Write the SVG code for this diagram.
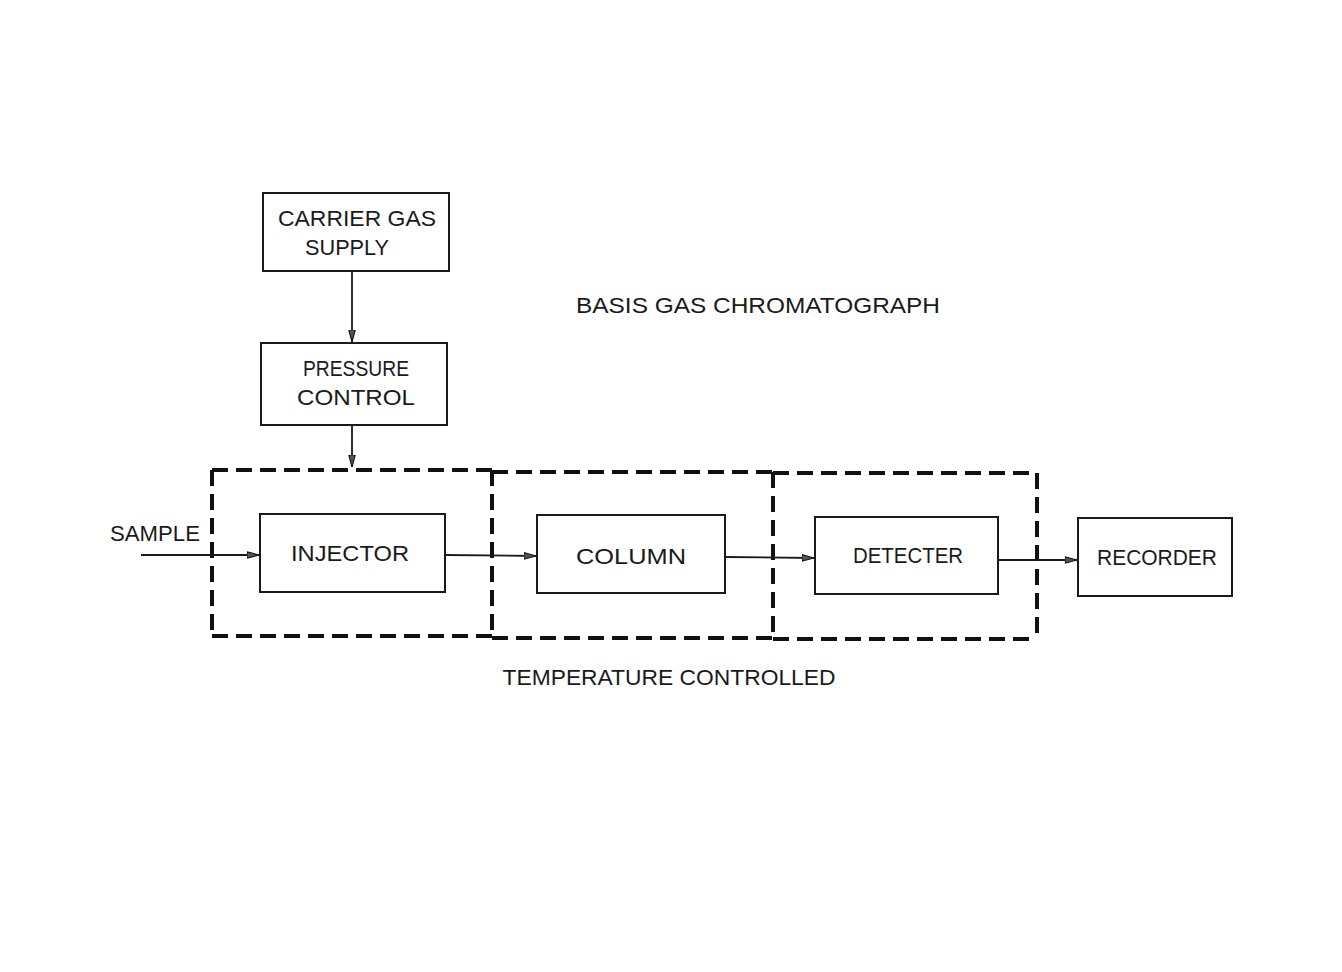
<svg xmlns="http://www.w3.org/2000/svg" width="1342" height="972" viewBox="0 0 1342 972">
<style>
.box{fill:none;stroke:#1a1a1a;stroke-width:2}
.zone{fill:none;stroke:#111;stroke-width:4;stroke-dasharray:16 8}
.t{font-family:"Liberation Sans",Arial,sans-serif;font-size:22px;fill:#1a1a1a;text-anchor:middle}
.c{stroke:#1a1a1a;stroke-width:1.8;fill:none;marker-end:url(#ah)}
</style>
<defs>
<marker id="ah" viewBox="0 0 12 8" refX="12" refY="4" markerWidth="12" markerHeight="8" markerUnits="userSpaceOnUse" orient="auto">
<path d="M0,0.8 L12,4 L0,7.2 Z" fill="#555" stroke="#1a1a1a" stroke-width="1.2"/>
</marker>
</defs>
<rect width="1342" height="972" fill="#fff"/>
<g id="zones">
<path class="zone" d="M212,470 H492"/>
<path class="zone" d="M492,472 H773"/>
<path class="zone" d="M773,473 H1037"/>
<path class="zone" d="M212,636 H492"/>
<path class="zone" d="M492,638 H773"/>
<path class="zone" d="M773,639 H1037"/>
<path class="zone" d="M212,470 V636"/>
<path class="zone" d="M492,470 V638"/>
<path class="zone" d="M773,472 V639"/>
<path class="zone" d="M1037,473 V639"/>
</g>
<g id="connectors">
<line class="c" x1="352" y1="271" x2="352" y2="342"/>
<line class="c" x1="352" y1="425" x2="352" y2="467"/>
<line class="c" x1="141" y1="555" x2="259" y2="555"/>
<line class="c" x1="445" y1="555" x2="536" y2="556"/>
<line class="c" x1="725" y1="557" x2="814" y2="558"/>
<line class="c" x1="998" y1="560" x2="1077" y2="560"/>
</g>
<g id="carrier">
<rect class="box" x="263" y="193" width="186" height="78"/>
<text class="t" x="357" y="226" textLength="158" lengthAdjust="spacingAndGlyphs">CARRIER GAS</text>
<text class="t" x="347" y="255" textLength="84" lengthAdjust="spacingAndGlyphs">SUPPLY</text>
</g>
<g id="pressure">
<rect class="box" x="261" y="343" width="186" height="82"/>
<text class="t" x="356" y="376" textLength="106" lengthAdjust="spacingAndGlyphs">PRESSURE</text>
<text class="t" x="356" y="405" textLength="118" lengthAdjust="spacingAndGlyphs">CONTROL</text>
</g>
<g id="injector">
<rect class="box" x="260" y="514" width="185" height="78"/>
<text class="t" x="350" y="561" textLength="118" lengthAdjust="spacingAndGlyphs">INJECTOR</text>
</g>
<g id="column">
<rect class="box" x="537" y="515" width="188" height="78"/>
<text class="t" x="631" y="564" textLength="110" lengthAdjust="spacingAndGlyphs">COLUMN</text>
</g>
<g id="detecter">
<rect class="box" x="815" y="517" width="183" height="77"/>
<text class="t" x="908" y="563" textLength="110" lengthAdjust="spacingAndGlyphs">DETECTER</text>
</g>
<g id="recorder">
<rect class="box" x="1078" y="518" width="154" height="78"/>
<text class="t" x="1157" y="565" textLength="120" lengthAdjust="spacingAndGlyphs">RECORDER</text>
</g>
<g id="labels">
<text class="t" x="155" y="541" textLength="90" lengthAdjust="spacingAndGlyphs">SAMPLE</text>
<text class="t" x="758" y="313" textLength="364" lengthAdjust="spacingAndGlyphs">BASIS GAS CHROMATOGRAPH</text>
<text class="t" x="669" y="685" textLength="333" lengthAdjust="spacingAndGlyphs">TEMPERATURE CONTROLLED</text>
</g>
</svg>
